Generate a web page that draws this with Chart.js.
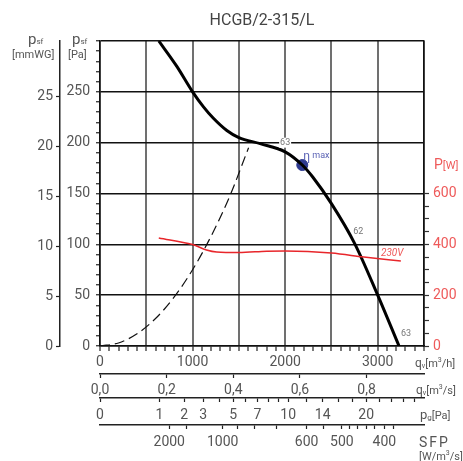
<!DOCTYPE html>
<html>
<head>
<meta charset="utf-8">
<script src="https://cdn.jsdelivr.net/npm/chart.js@4.4.1/dist/chart.umd.min.js"></script>
<style>
  html, body { margin: 0; padding: 0; background: #fff; }
  #wrap { width: 463px; height: 461px; }
</style>
</head>
<body>
<div id="wrap"><canvas id="fanChart"></canvas></div>
<script>
// fan curve, static pressure [Pa] vs flow [m3/h]
const flowPs = [635, 830, 1000, 1120, 1225, 1370, 1500, 1730, 2000, 2185, 2300, 2500, 2750, 3000, 3230];
const staticPs = [300, 275, 250, 235, 224, 212, 205, 199, 191, 178, 166, 140, 101, 50, 0];

// system curve (dashed)
const flowSys = [0, 200, 400, 600, 800, 1000, 1200, 1400, 1605];
const pressSys = [0, 3, 12, 27, 48, 75, 108, 147, 195];

// power input at 230V [W]
const flowPw = [635, 1000, 1150, 1260, 1500, 1800, 2000, 2500, 2850, 3250];
const powerW = [425, 399, 378, 370, 368, 373, 374, 366, 350, 334];

// max efficiency point
const etaFlow = [2185];
const etaPress = [178];

// sound labels on the curve
const noiseText = ['63', '62', '63'];
const noiseFlow = [2000, 2790, 3305];
const noisePress = [200, 112, 12];

// axis tick labels
const flowTicks = [0, 1000, 2000, 3000];
const paTicks = [0, 50, 100, 150, 200, 250];
const mmTicks = [0, 5, 10, 15, 20, 25];
const wTicks = [0, 200, 400, 600];
const qsTicks = [0.0, 0.2, 0.4, 0.6, 0.8];
const pgTicks = [0, 1, 2, 3, 5, 7, 10, 14, 20];
const pgMinor = [4, 6, 8, 9, 12, 16, 18, 22, 24, 26, 28];
const sfpTicks = [2000, 1000, 600, 500, 400];
const sfpFlow = [748, 1325, 2232, 2613, 3072];
const sfpMinor = [1500, 900, 800, 700, 550, 480, 460, 440, 420, 380];
const sfpMinorFlow = [936, 1483, 1674, 1906, 2411, 2700, 2779, 2880, 2970, 3167];

const PA_PER_MMWG = 9.80665;
const PG_FLOW_1PA = 643; // m3/h giving 1 Pa dynamic pressure
const GREY = '#555';
const RED = '#ee5a5a';
const NONE = 'rgba(0,0,0,0)';
const tickFont = { family: 'Roboto', size: 14 };

const pts = (xs, ys) => xs.map((x, i) => ({ x: x, y: ys[i] }));

function fixedTicks(list) {
    return scale => { scale.ticks = list.slice().sort((a, b) => a.value - b.value); };
}

function extraAxis(weight, height, ticks, pad) {
    return {
        type: 'linear', position: 'bottom', weight: weight, min: 0, max: 3500,
        afterBuildTicks: fixedTicks(ticks),
        afterFit: s => { s.height = height; },
        ticks: {
            autoSkip: false, maxRotation: 0, font: tickFont, color: GREY, padding: pad,
            callback: (v, i, t) => t[i].lbl
        },
        grid: { drawOnChartArea: false, color: '#222', tickLength: 4, tickWidth: 1.2 },
        border: { color: '#222', width: 1.5 }
    };
}

// draw text pieces one after another: [text, size, dy, style]
function drawParts(ctx, x, y, parts, color) {
    ctx.fillStyle = color;
    ctx.textBaseline = 'alphabetic';
    ctx.textAlign = 'left';
    parts.forEach(p => {
        ctx.font = (p[3] || '') + ' ' + p[1] + 'px Roboto';
        ctx.fillText(p[0], x, y + (p[2] || 0));
        x += ctx.measureText(p[0]).width;
    });
}

const overlay = {
    id: 'overlay',
    afterDatasetsDraw(chart) {
        const { ctx, chartArea: a, scales: s } = chart;
        ctx.save();

        // title
        ctx.fillStyle = '#444';
        ctx.font = '16px Roboto';
        ctx.textAlign = 'center';
        ctx.textBaseline = 'middle';
        ctx.fillText('HCGB/2-315/L', (a.left + a.right) / 2, 21);

        // sound labels
        ctx.font = '9px Roboto';
        noiseText.forEach((t, i) => {
            const x = s.x.getPixelForValue(noiseFlow[i]);
            const y = s.y.getPixelForValue(noisePress[i]);
            if (i === 0) {
                ctx.fillStyle = '#fff';
                ctx.fillRect(x - 6, y - 5, 12, 10);
            }
            ctx.fillStyle = '#777';
            ctx.fillText(t, x, y);
        });

        // eta max
        const ex = s.x.getPixelForValue(etaFlow[0]);
        const ey = s.y.getPixelForValue(etaPress[0]);
        drawParts(ctx, ex + 1, ey - 5, [['η', 12], [' max', 9, -2]], '#5b63b5');

        // 230V
        ctx.fillStyle = RED;
        ctx.font = 'italic 10px Roboto';
        ctx.textAlign = 'left';
        ctx.textBaseline = 'middle';
        ctx.fillText('230V', s.x.getPixelForValue(3035), s.yW.getPixelForValue(365));

        // y axis titles
        drawParts(ctx, 28, 44, [['p', 15], ['sf', 8, 0]], GREY);
        drawParts(ctx, 12, 58, [['[mmWG]', 11]], GREY);
        drawParts(ctx, 72, 44, [['p', 15], ['sf', 8, 0]], GREY);
        drawParts(ctx, 68, 58, [['[Pa]', 11]], GREY);
        drawParts(ctx, 434, 169, [['P', 14], ['[W]', 11]], RED);

        // bottom axis units
        drawParts(ctx, 415, 367, [['q', 12], ['v', 7, 1], ['[m', 11], ['3', 7, -5], ['/h]', 11]], GREY);
        drawParts(ctx, 416, 394, [['q', 12], ['v', 7, 1], ['[m', 11], ['3', 7, -5], ['/s]', 11]], GREY);
        drawParts(ctx, 420, 419, [['p', 13], ['g', 8, 1], ['[Pa]', 11]], GREY);
        ctx.letterSpacing = '2px';
        drawParts(ctx, 419, 447, [['SFP', 14]], GREY);
        ctx.letterSpacing = '0px';
        drawParts(ctx, 419, 460, [['[W/m', 11], ['3', 7, -5], ['/s]', 11]], GREY);

        ctx.restore();
    }
};

const pgList = pgTicks.map(p => ({ value: PG_FLOW_1PA * Math.sqrt(p), lbl: String(p) }))
    .concat(pgMinor.map(p => ({ value: PG_FLOW_1PA * Math.sqrt(p), lbl: '' })));
const sfpList = sfpTicks.map((v, i) => ({ value: sfpFlow[i], lbl: String(v) }))
    .concat(sfpMinor.map((v, i) => ({ value: sfpMinorFlow[i], lbl: '' })));
const qsList = qsTicks.map(v => ({ value: v * 3600, lbl: v.toFixed(1).replace('.', ',') }));

new Chart(document.getElementById('fanChart'), {
    type: 'line',
    data: {
        datasets: [
            {
                data: pts(flowPw, powerW), yAxisID: 'yW',
                borderColor: '#e8262b', borderWidth: 1.5, pointRadius: 0,
                cubicInterpolationMode: 'monotone'
            },
            {
                data: pts(flowSys, pressSys), yAxisID: 'y',
                borderColor: '#111', borderWidth: 1.2, borderDash: [10, 5], pointRadius: 0,
                cubicInterpolationMode: 'monotone'
            },
            {
                data: pts(flowPs, staticPs), yAxisID: 'y',
                borderColor: '#000', borderWidth: 3, pointRadius: 0,
                cubicInterpolationMode: 'monotone'
            },
            {
                data: pts(etaFlow, etaPress), yAxisID: 'y',
                showLine: false, pointRadius: 5.5, pointBackgroundColor: '#2e3a8f',
                pointBorderColor: '#2e3a8f'
            }
        ]
    },
    options: {
        responsive: true,
        maintainAspectRatio: false,
        animation: false,
        layout: { padding: { top: 41, left: 0, right: 0, bottom: 0 } },
        plugins: { legend: { display: false }, tooltip: { enabled: false } },
        scales: {
            x: {
                type: 'linear', position: 'bottom', weight: 0, min: 0, max: 3500,
                afterFit: s => { s.height = 28; },
                ticks: {
                    stepSize: 100, autoSkip: false, maxRotation: 0, font: tickFont, color: GREY, padding: 3,
                    callback: v => flowTicks.includes(v) ? v : ''
                },
                grid: {
                    color: ctx => ctx.tick && ctx.tick.value % 500 === 0 ? '#707070' : NONE,
                    lineWidth: 2, tickColor: '#222', tickLength: 5, tickWidth: 1.2
                },
                border: { color: '#111', width: 1.5 }
            },
            q2: extraAxis(1, 24, qsList, 4),
            pg: extraAxis(2, 27, pgList, 5),
            sfp: extraAxis(3, 36, sfpList, 5),
            y: {
                type: 'linear', position: 'left', weight: 0, min: 0, max: 300,
                afterFit: s => { s.width = 40; },
                ticks: {
                    stepSize: 10, autoSkip: false, font: tickFont, color: GREY, padding: 6,
                    callback: v => paTicks.includes(v) ? v : ''
                },
                grid: {
                    color: ctx => ctx.tick && ctx.tick.value % 50 === 0 ? '#111' : NONE,
                    lineWidth: 1.5, tickColor: '#222', tickLength: 4, tickWidth: 1.2
                },
                border: { color: '#111', width: 1.5 }
            },
            mm: {
                type: 'linear', position: 'left', weight: 1, min: 0, max: 300 / PA_PER_MMWG,
                afterFit: s => { s.width = 60; },
                ticks: {
                    stepSize: 5, includeBounds: false, autoSkip: false, font: tickFont, color: GREY, padding: 3,
                    callback: v => mmTicks.includes(v) ? v : ''
                },
                grid: {
                    drawOnChartArea: false, tickLength: 4, tickWidth: 1.2,
                    tickColor: ctx => ctx.tick && ctx.tick.value <= 25 ? '#222' : NONE
                },
                border: { color: '#222', width: 1.5 }
            },
            yW: {
                type: 'linear', position: 'right', weight: 0, min: 0, max: 1200,
                afterFit: s => { s.width = 39; },
                ticks: {
                    stepSize: 50, autoSkip: false, font: tickFont, color: RED, padding: 4,
                    callback: v => wTicks.includes(v) ? v : ''
                },
                grid: {
                    drawOnChartArea: false, tickLength: 5, tickWidth: 1.2,
                    tickColor: ctx => ctx.tick && ctx.tick.value <= 600 ? '#333' : NONE
                },
                border: { color: '#111', width: 1.5 }
            }
        }
    },
    plugins: [overlay]
});
</script>
</body>
</html>
